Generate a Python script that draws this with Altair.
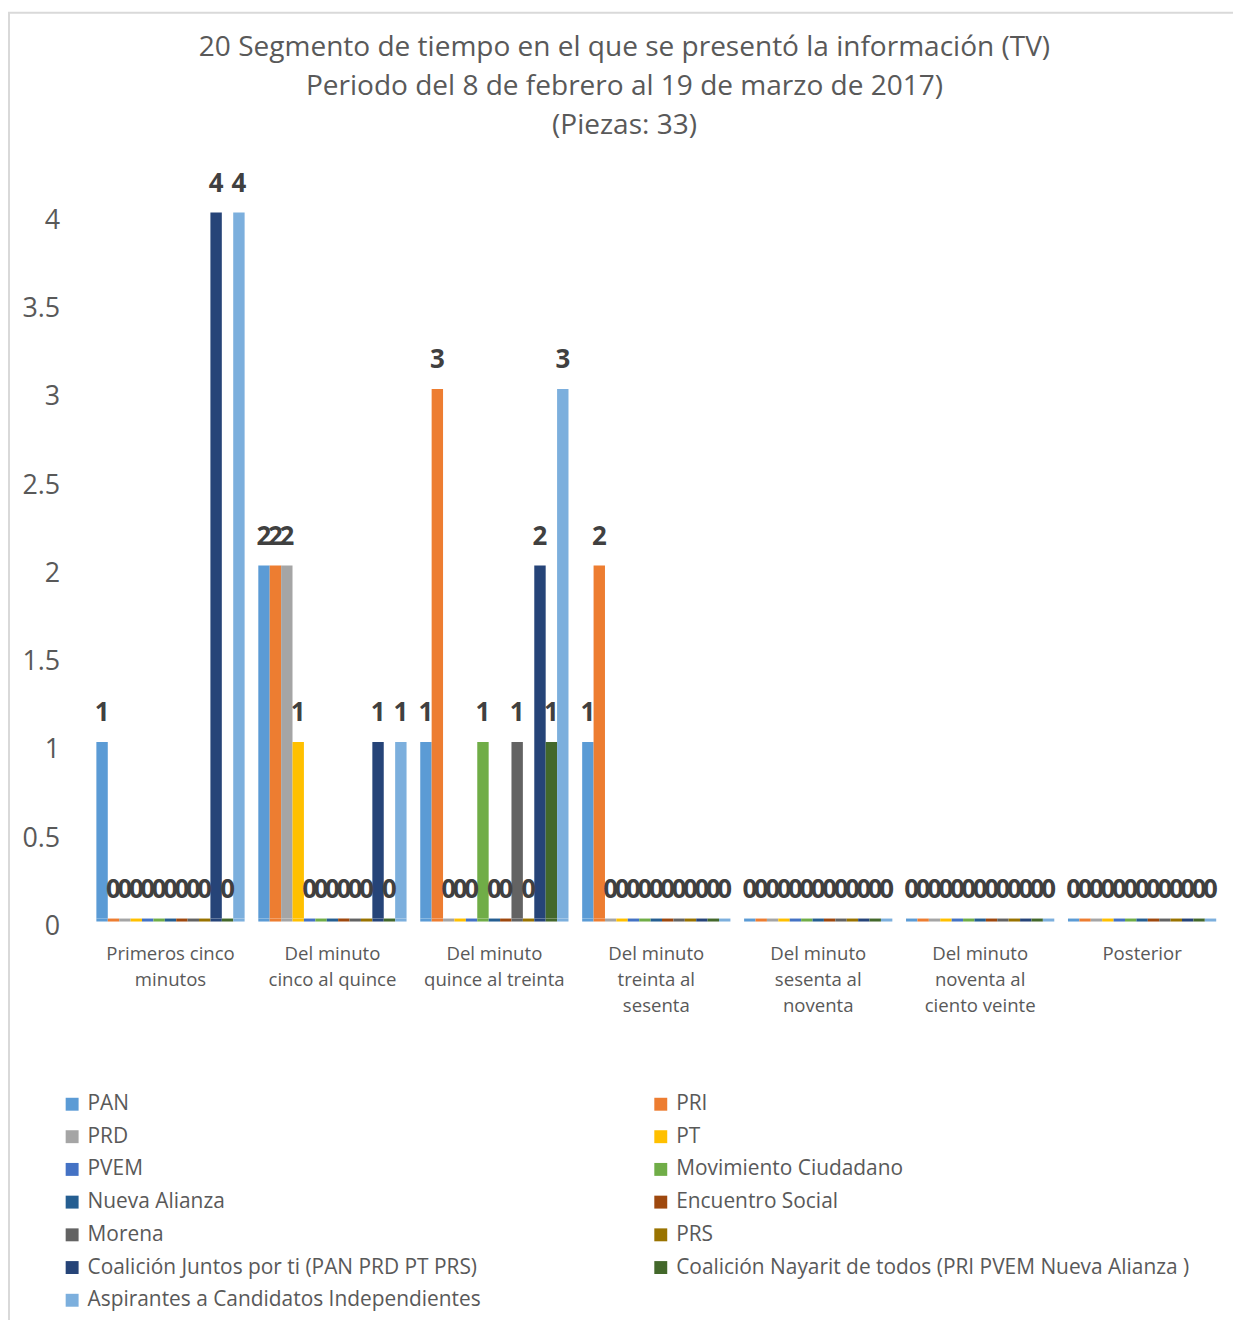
import altair as alt
import pandas as pd
import json

title_lines = [
    "20 Segmento de tiempo en el que se presentó la información (TV)",
    "Periodo del 8 de febrero al 19 de marzo de 2017)",
    "(Piezas: 33)",
]

categories = [
    "Primeros cinco minutos",
    "Del minuto cinco al quince",
    "Del minuto quince al treinta",
    "Del minuto treinta al sesenta",
    "Del minuto sesenta al noventa",
    "Del minuto noventa al ciento veinte",
    "Posterior",
]
category_lines = [
    ["Primeros cinco", "minutos"],
    ["Del minuto", "cinco al quince"],
    ["Del minuto", "quince al treinta"],
    ["Del minuto", "treinta al", "sesenta"],
    ["Del minuto", "sesenta al", "noventa"],
    ["Del minuto", "noventa al", "ciento veinte"],
    ["Posterior"],
]

series = [
    "PAN", "PRI", "PRD", "PT", "PVEM", "Movimiento Ciudadano", "Nueva Alianza",
    "Encuentro Social", "Morena", "PRS",
    "Coalición Juntos por ti (PAN PRD PT PRS)",
    "Coalición Nayarit de todos (PRI PVEM Nueva Alianza )",
    "Aspirantes a Candidatos Independientes",
]
colors = [
    "#5B9BD5", "#ED7D31", "#A5A5A5", "#FFC000", "#4472C4", "#70AD47", "#255E91",
    "#9E480E", "#636363", "#997300", "#264478", "#43682B", "#7CAFDD",
]

pan = [1, 2, 1, 1, 0, 0, 0]
pri = [0, 2, 3, 2, 0, 0, 0]
prd = [0, 2, 0, 0, 0, 0, 0]
pt = [0, 1, 0, 0, 0, 0, 0]
pvem = [0, 0, 0, 0, 0, 0, 0]
mc = [0, 0, 1, 0, 0, 0, 0]
na = [0, 0, 0, 0, 0, 0, 0]
es = [0, 0, 0, 0, 0, 0, 0]
morena = [0, 0, 1, 0, 0, 0, 0]
prs = [0, 0, 0, 0, 0, 0, 0]
juntos = [4, 1, 2, 0, 0, 0, 0]
nayarit = [0, 0, 1, 0, 0, 0, 0]
aspirantes = [4, 1, 3, 0, 0, 0, 0]

all_values = [pan, pri, prd, pt, pvem, mc, na, es, morena, prs, juntos, nayarit, aspirantes]

rows = []
for s, vals in zip(series, all_values):
    for c, v in zip(categories, vals):
        rows.append({"category": c, "series": s, "value": v})
df = pd.DataFrame(rows)

label_expr = ""
for c, lines in zip(categories, category_lines):
    label_expr += f"datum.value == {json.dumps(c)} ? {json.dumps(lines)} : "
label_expr += "datum.value"

FONT = "Open Sans"
GRAY = "#595959"

x_enc = alt.X(
    "category:N", sort=categories,
    scale=alt.Scale(paddingInner=0, paddingOuter=0),
    axis=alt.Axis(title=None, labelAngle=0, labelFontSize=18.7, labelColor=GRAY,
                  labelExpr=label_expr, labelLineHeight=26, domain=False, ticks=False,
                  labelPadding=26, labelBaseline="top", labelFont=FONT),
)
xoff_enc = alt.XOffset("series:N", sort=series,
                       scale=alt.Scale(paddingOuter=0.6, paddingInner=0))
y_enc = alt.Y(
    "value:Q", scale=alt.Scale(domain=[0, 4]),
    axis=alt.Axis(title=None, values=[0, 0.5, 1, 1.5, 2, 2.5, 3, 3.5, 4], format="~g",
                  labelFontSize=27, labelColor=GRAY, gridColor="#d9d9d9", gridWidth=2,
                  domain=False, ticks=False, labelPadding=30, labelFont=FONT,
                  labelOffset=8),
)

color_enc = alt.Color(
    "series:N", sort=series,
    scale=alt.Scale(domain=series, range=colors),
    legend=alt.Legend(
        title=None, orient="none", legendX=-28, legendY=886, columns=2,
        direction="horizontal", columnPadding=170, rowPadding=10.9,
        symbolType="square", symbolSize=169, symbolStrokeWidth=0,
        labelFontSize=21, labelColor=GRAY, labelFont=FONT,
        labelLimit=700, labelOffset=5,
    ),
)

base = alt.Chart(df)

bars = base.mark_bar().encode(x=x_enc, xOffset=xoff_enc, y=y_enc, color=color_enc)

floor = base.mark_bar().encode(
    x=x_enc, xOffset=xoff_enc, y=alt.datum(0), y2=alt.value(713), color=color_enc
)

labels = base.mark_text(
    dy=-29, fontSize=26, fontWeight="bold", color="#404040", font=FONT, baseline="middle"
).encode(
    x=x_enc, xOffset=xoff_enc, y=y_enc, text=alt.Text("value:Q"),
)

title_layers = []
title_y = [-165, -126, -87]
for line, ty in zip(title_lines, title_y):
    title_layers.append(
        alt.Chart(pd.DataFrame({"line": [line]})).mark_text(
            fontSize=28.2, color=GRAY, font=FONT, baseline="middle", align="center"
        ).encode(text="line:N", x=alt.value(538), y=alt.value(ty))
    )

border = alt.Chart(pd.DataFrame({"a": [0]})).mark_rect(
    fill=None, stroke="#d9d9d9", strokeWidth=2
).encode(
    x=alt.value(-81), x2=alt.value(1170), y=alt.value(-201), y2=alt.value(1130)
)

chart = alt.layer(border, *title_layers, floor, bars, labels).properties(
    width=1140, height=710,
    autosize=alt.AutoSizeParams(type="none"),
    padding={"left": 82, "top": 202, "right": 10, "bottom": 400},
).configure_view(stroke=None)

chart.save("out.html", embed_options={"renderer": "svg", "actions": False})
